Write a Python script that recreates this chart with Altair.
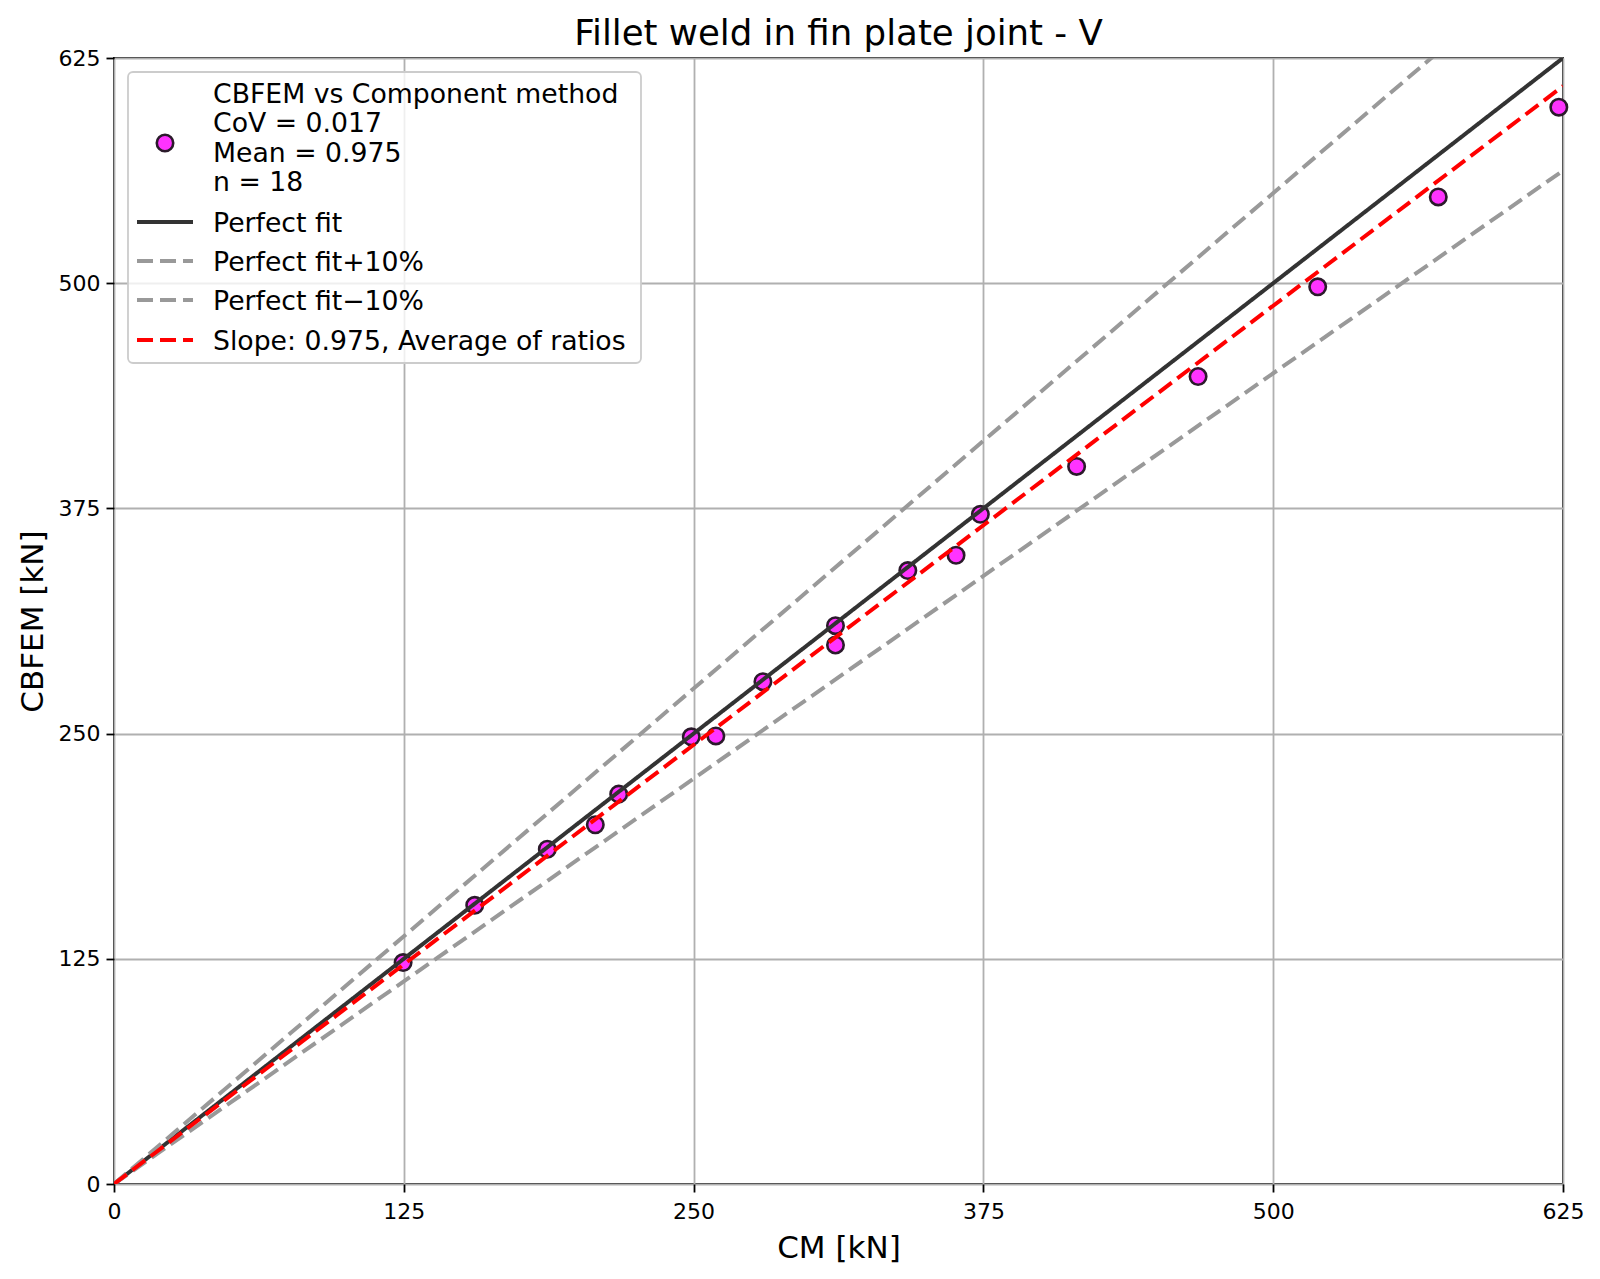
import altair as alt
import pandas as pd

# ---- data ----
CM = [124.7, 155.6, 186.9, 207.6, 217.7, 249.0, 259.6, 279.9, 311.2, 311.2,
      342.4, 363.2, 373.7, 415.2, 467.6, 519.2, 571.2, 623.2]
CBFEM = [122.9, 154.7, 185.8, 199.4, 216.4, 248.2, 248.7, 278.8, 309.9, 299.2,
         340.5, 349.0, 371.7, 398.3, 448.2, 498.0, 547.9, 597.7]

AXIS_MAX = 625
TICKS = [0, 125, 250, 375, 500, 625]

LINE_NAMES = ["Perfect fit", "Perfect fit+10%", "Perfect fit\u221210%", "Slope: 0.975, Average of ratios"]
LINE_SLOPES = [1.0, 1.1, 0.9, 0.975]
LINE_COLORS = ["#333333", "#999999", "#999999", "#ff0000"]
LINE_DASHES = [[1, 0], [16, 7], [16, 7], [16, 7]]

POINT_LABEL = ["CBFEM vs Component method", "CoV = 0.017", "Mean = 0.975", "n = 18"]

TITLE = "Fillet weld in fin plate joint - V"
X_TITLE = "CM [kN]"
Y_TITLE = "CBFEM [kN]"

FONT = "DejaVu Sans"
W, H = 1449, 1126

pts = pd.DataFrame({"cm": CM, "cbfem": CBFEM})

xs = alt.Scale(domain=[0, AXIS_MAX], nice=False, zero=True)
ys = alt.Scale(domain=[0, AXIS_MAX], nice=False, zero=True)

xaxis = alt.Axis(values=TICKS, title=X_TITLE, titleY=73, titleBaseline="alphabetic",
                 labelPadding=9, labelFlush=False)
yaxis = alt.Axis(values=TICKS, title=Y_TITLE, titleX=-72, titleY=H / 2,
                 titleBaseline="alphabetic", titleAngle=-90, labelFlush=False)

MARK_SIZE = 270
MARK_EDGE = 2.6
points = alt.Chart(pts).mark_circle(
    size=MARK_SIZE, fill="#ff33ff", stroke="#2b1a2b", strokeWidth=MARK_EDGE, opacity=1
).encode(
    x=alt.X("cm:Q", scale=xs, axis=xaxis),
    y=alt.Y("cbfem:Q", scale=ys, axis=yaxis),
)

layers = [points]
for name, s, c, d in zip(LINE_NAMES, LINE_SLOPES, LINE_COLORS, LINE_DASHES):
    df = pd.DataFrame({"cm": [0, AXIS_MAX], "cbfem": [0, s * AXIS_MAX]})
    layers.append(
        alt.Chart(df).mark_line(color=c, strokeWidth=4, strokeDash=d, clip=True).encode(
            x=alt.X("cm:Q", scale=xs),
            y=alt.Y("cbfem:Q", scale=ys),
        )
    )

# ---- legend (drawn as marks inside the plot, like matplotlib's) ----
one = pd.DataFrame({"k": [0]})
legend_box = alt.Chart(one).mark_rect(
    fill="white", fillOpacity=0.8, stroke="#cccccc", strokeWidth=1.8, cornerRadius=5
).encode(x=alt.value(14), x2=alt.value(527), y=alt.value(14), y2=alt.value(305))
layers.append(legend_box)

layers.append(
    alt.Chart(one).mark_point(
        shape="circle", size=MARK_SIZE, filled=True, fill="#ff33ff", stroke="#2b1a2b",
        strokeWidth=MARK_EDGE, opacity=1
    ).encode(x=alt.value(51), y=alt.value(85))
)
pt_baselines = [45, 74, 104, 133]
for txt, yb in zip(POINT_LABEL, pt_baselines):
    layers.append(
        alt.Chart(one).mark_text(
            text=txt, font=FONT, fontSize=26.7, align="left", baseline="alphabetic", color="black"
        ).encode(x=alt.value(99), y=alt.value(yb))
    )

line_y = [164, 203, 242, 282]
for name, c, d, yl in zip(LINE_NAMES, LINE_COLORS, LINE_DASHES, line_y):
    layers.append(
        alt.Chart(one).mark_rule(color=c, strokeWidth=4, strokeDash=d).encode(
            x=alt.value(23), x2=alt.value(79), y=alt.value(yl)
        )
    )
    layers.append(
        alt.Chart(one).mark_text(
            text=name, font=FONT, fontSize=26.7, align="left", baseline="alphabetic", color="black"
        ).encode(x=alt.value(99), y=alt.value(yl + 10))
    )

# chart title, centred over the plot area
layers.append(
    alt.Chart(one).mark_text(
        text=TITLE, font=FONT, fontSize=35.6, align="center", baseline="alphabetic", color="black"
    ).encode(x=alt.value(W / 2), y=alt.value(-13))
)

chart = alt.layer(*layers).properties(
    width=W,
    height=H,
    background="white",
    autosize=alt.AutoSizeParams(type="none"),
    padding={"left": 106, "top": 50, "right": 29, "bottom": 87},
).configure_view(
    stroke="black", strokeWidth=1.8
).configure_axis(
    domain=False,
    ticks=True, tickColor="black", tickWidth=1.8, tickSize=8,
    labelFont=FONT, labelFontSize=22, labelColor="black", labelPadding=6,
    grid=True, gridColor="#b0b0b0", gridWidth=1.8,
    titleFont=FONT, titleFontSize=31, titleFontWeight="normal", titleColor="black",
)

chart.save("out.html", embed_options={"renderer": "svg", "actions": False})
